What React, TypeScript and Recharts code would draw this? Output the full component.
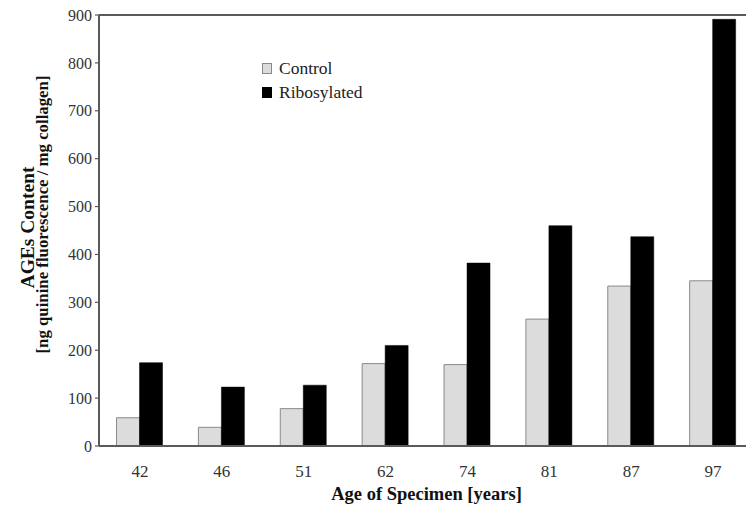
import React from 'react';
import { BarChart, Bar, XAxis, YAxis, ReferenceLine, Legend } from 'recharts';

const ages = ['42', '46', '51', '62', '74', '81', '87', '97'];
const control = [59, 39, 78, 172, 170, 265, 334, 345];
const ribosylated = [174, 123, 127, 210, 382, 460, 437, 891];
const yTicks = [0, 100, 200, 300, 400, 500, 600, 700, 800, 900];
const boundaryTicks = [1, 2, 3, 4, 5, 6, 7];
const seriesLabels: Record<string, string> = { control: 'Control', ribosylated: 'Ribosylated' };
const yTitleLines = ['AGEs Content', '[ng quinine fluorescence / mg collagen]'];
const xTitle = 'Age of Specimen [years]';

const data = ages.map((age, i) => ({ age, control: control[i], ribosylated: ribosylated[i] }));

const SERIF = "'Liberation Serif', 'Times New Roman', serif";
const AXIS = '#5a5a5a';

const YTitle = (props: any) => {
  const vb = props.viewBox || {};
  const cy = (vb.y ?? 15) + (vb.height ?? 430) / 2;
  const y1 = cy - 3;
  const y2 = cy - 16;
  return (
    <g fontFamily={SERIF} fontWeight="bold" fill="#111">
      <text x={34} y={y1} textAnchor="middle" fontSize={19.5} transform={`rotate(-90, 34, ${y1})`}>
        {yTitleLines[0]}
      </text>
      <text x={48} y={y2} textAnchor="middle" fontSize={16.8} transform={`rotate(-90, 48, ${y2})`}>
        {yTitleLines[1]}
      </text>
    </g>
  );
};

const XTitle = (props: any) => {
  const vb = props.viewBox || {};
  const cx = (vb.x ?? 99) + (vb.width ?? 655) / 2;
  const y = (vb.y ?? 446) + 54;
  return (
    <text x={cx} y={y} textAnchor="middle" fontFamily={SERIF} fontWeight="bold" fontSize={18.5} fill="#111">
      {xTitle}
    </text>
  );
};

const LegendContent = (props: any) => {
  const payload = props.payload || [];
  return (
    <div style={{ fontFamily: SERIF, fontSize: 17.5, color: '#222', lineHeight: '24px' }}>
      {payload.map((p: any) => (
        <div key={p.dataKey} style={{ display: 'flex', alignItems: 'center', height: 24 }}>
          <span
            style={{
              display: 'inline-block',
              width: 8,
              height: 9,
              background: p.dataKey === 'control' ? '#dcdcdc' : '#000',
              border: p.dataKey === 'control' ? '1px solid #888' : '1px solid #000',
              marginRight: 7,
            }}
          />
          <span>{seriesLabels[p.dataKey]}</span>
        </div>
      ))}
    </div>
  );
};

export default function App() {
  return (
    <div style={{ position: 'absolute', left: 0, top: 0, width: 746, height: 514, overflow: 'hidden', background: '#fff' }}>
      <BarChart
        width={770}
        height={514}
        data={data}
        margin={{ top: 15, right: 16, bottom: 0, left: 0 }}
        barCategoryGap="21.4%"
        barGap={0}
      >
        <XAxis
          xAxisId="bound"
          type="number"
          domain={[0, 8]}
          allowDataOverflow
          ticks={boundaryTicks}
          height={0}
          mirror
          axisLine={false}
          tick={false}
          tickSize={5}
          tickLine={{ stroke: AXIS, strokeWidth: 1.5 }}
        />
        <XAxis
          dataKey="age"
          height={68}
          tickLine={false}
          tickSize={0}
          tickMargin={19}
          axisLine={{ stroke: AXIS, strokeWidth: 2 }}
          tick={{ fill: '#333', fontSize: 17, fontFamily: SERIF }}
          interval={0}
          label={{ content: XTitle }}
        />
        <YAxis
          yAxisId="inner"
          domain={[0, 900]}
          ticks={yTicks}
          width={0}
          mirror
          axisLine={false}
          tick={false}
          tickSize={5}
          tickLine={{ stroke: AXIS, strokeWidth: 1.2 }}
        />
        <YAxis
          domain={[0, 900]}
          ticks={yTicks}
          width={99}
          tickSize={4}
          tickMargin={3}
          axisLine={{ stroke: AXIS, strokeWidth: 2 }}
          tickLine={{ stroke: AXIS, strokeWidth: 1.2 }}
          tick={{ fill: '#333', fontSize: 16, fontFamily: SERIF }}
          label={{ content: YTitle }}
        />
        <ReferenceLine y={900} stroke={AXIS} strokeWidth={2} />
        <Legend
          layout="vertical"
          align="center"
          verticalAlign="middle"
          content={LegendContent}
          wrapperStyle={{ left: 262, top: 56, width: 'auto', height: 'auto' }}
        />
        <Bar dataKey="control" name="Control" fill="#dcdcdc" stroke="#8a8a8a" strokeWidth={1} isAnimationActive={false} />
        <Bar dataKey="ribosylated" name="Ribosylated" fill="#000" stroke="#000" strokeWidth={0.5} isAnimationActive={false} />
      </BarChart>
    </div>
  );
}
